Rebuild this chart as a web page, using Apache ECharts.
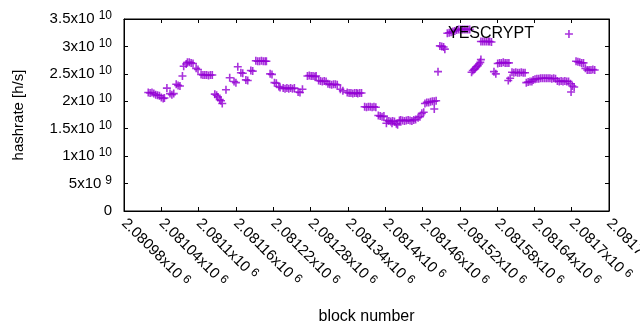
<!DOCTYPE html>
<html lang="en">

<head>
    <meta charset="utf-8">
    <title>YESCRYPT hashrate</title>
    <script src="https://cdn.jsdelivr.net/npm/echarts@6/dist/echarts.min.js"></script>
    <style>
        html, body { margin: 0; padding: 0; background: #fff; }
        #chart-container { width: 640px; height: 330px; }
    </style>
</head>

<body>
    <div id="chart-container"></div>

    <script>
        // axis ranges (block numbers and h/s)
        const xMin = 2080980;
        const xMax = 2081760;
        const xStep = 60;
        const yMin = 0;
        const yMax = 3.5e10;
        const yStep = 5e9;

        const seriesName = 'YESCRYPT';
        const hashUnit = 1e10; // values below are in units of 10^10 h/s

        // [block number, hashrate / 10^10]
        const yescrypt = [
            [2081019, 2.16], [2081022, 2.15], [2081025, 2.16], [2081028, 2.14],
            [2081031, 2.12], [2081034, 2.11], [2081037, 2.10],
            [2081040, 2.07], [2081043, 2.05], [2081045, 2.06],
            [2081049, 2.24],
            [2081054, 2.14], [2081057, 2.12], [2081060, 2.14],
            [2081064, 2.31], [2081067, 2.29], [2081070, 2.28],
            [2081074, 2.46], [2081076, 2.64],
            [2081080, 2.68], [2081082, 2.71], [2081085, 2.71], [2081088, 2.70], [2081091, 2.69],
            [2081096, 2.60], [2081099, 2.58],
            [2081104, 2.49], [2081107, 2.48], [2081110, 2.48], [2081113, 2.48], [2081116, 2.47], [2081119, 2.48], [2081122, 2.48],
            [2081126, 2.13], [2081129, 2.11], [2081131, 2.08], [2081134, 2.03], [2081136, 2.01], [2081138, 1.96],
            [2081144, 2.21], [2081150, 2.43],
            [2081157, 2.36], [2081160, 2.34],
            [2081163, 2.63],
            [2081168, 2.52], [2081171, 2.51],
            [2081176, 2.39], [2081179, 2.38],
            [2081184, 2.56], [2081187, 2.55],
            [2081192, 2.74], [2081195, 2.73], [2081198, 2.73], [2081201, 2.74], [2081204, 2.73], [2081207, 2.73], [2081209, 2.73],
            [2081215, 2.50], [2081218, 2.49],
            [2081222, 2.34], [2081225, 2.33],
            [2081229, 2.27], [2081231, 2.25],
            [2081236, 2.24], [2081239, 2.23], [2081242, 2.24], [2081245, 2.23], [2081248, 2.24], [2081251, 2.23], [2081254, 2.24],
            [2081260, 2.17], [2081263, 2.16],
            [2081267, 2.22],
            [2081275, 2.46], [2081278, 2.47], [2081281, 2.46], [2081284, 2.46], [2081287, 2.45], [2081289, 2.46],
            [2081293, 2.38], [2081296, 2.37], [2081299, 2.36], [2081302, 2.37], [2081305, 2.36],
            [2081308, 2.32], [2081311, 2.31], [2081314, 2.30], [2081317, 2.31], [2081320, 2.31], [2081323, 2.30],
            [2081328, 2.22], [2081332, 2.19],
            [2081339, 2.16], [2081342, 2.15], [2081345, 2.15], [2081348, 2.14], [2081351, 2.15], [2081354, 2.15], [2081356, 2.14], [2081359, 2.15], [2081362, 2.15],
            [2081367, 1.90], [2081370, 1.89], [2081373, 1.90], [2081376, 1.90], [2081379, 1.89], [2081382, 1.90], [2081385, 1.89],
            [2081389, 1.74], [2081392, 1.73], [2081395, 1.72], [2081398, 1.73],
            [2081403, 1.65], [2081406, 1.64], [2081409, 1.63], [2081412, 1.64], [2081415, 1.63],
            [2081418, 1.59], [2081420, 1.57],
            [2081423, 1.65], [2081425, 1.66], [2081428, 1.65], [2081431, 1.64], [2081434, 1.65], [2081437, 1.66], [2081440, 1.65], [2081443, 1.64], [2081446, 1.66], [2081449, 1.67],
            [2081402, 1.60], [2081411, 1.60],
            [2081453, 1.70], [2081456, 1.72],
            [2081459, 1.78], [2081462, 1.80],
            [2081464, 1.96], [2081467, 1.98], [2081470, 1.98], [2081473, 1.99], [2081476, 2.00], [2081479, 2.00], [2081482, 2.01],
            [2081479, 1.86],
            [2081485, 2.54],
            [2081488, 3.01], [2081491, 3.00], [2081494, 2.99], [2081496, 2.95],
            [2081500, 3.24], [2081503, 3.25], [2081506, 3.26], [2081509, 3.27], [2081512, 3.28],
            [2081515, 3.30], [2081518, 3.31], [2081521, 3.31], [2081524, 3.31], [2081527, 3.31], [2081530, 3.31], [2081533, 3.31], [2081536, 3.31],
            [2081539, 2.53], [2081541, 2.56], [2081543, 2.58], [2081545, 2.60], [2081547, 2.63], [2081549, 2.65], [2081551, 2.68], [2081553, 2.71], [2081554, 2.76],
            [2081554, 3.09], [2081557, 3.09], [2081560, 3.09], [2081563, 3.09], [2081566, 3.09], [2081568, 3.09], [2081571, 3.08],
            [2081575, 2.54], [2081578, 2.50],
            [2081581, 2.69], [2081584, 2.70], [2081587, 2.70], [2081590, 2.71], [2081593, 2.70], [2081596, 2.70], [2081599, 2.70],
            [2081598, 2.38], [2081601, 2.42],
            [2081604, 2.53], [2081607, 2.52], [2081610, 2.53], [2081613, 2.52], [2081616, 2.52], [2081619, 2.53], [2081622, 2.52], [2081625, 2.52],
            [2081627, 2.34], [2081630, 2.35], [2081633, 2.36], [2081636, 2.36],
            [2081638, 2.39], [2081641, 2.40], [2081644, 2.41], [2081647, 2.41], [2081650, 2.42], [2081653, 2.42], [2081656, 2.42], [2081659, 2.42], [2081662, 2.42], [2081665, 2.42], [2081668, 2.41], [2081671, 2.42], [2081674, 2.41],
            [2081677, 2.37], [2081680, 2.36], [2081683, 2.37], [2081686, 2.36], [2081689, 2.37], [2081692, 2.36], [2081695, 2.36],
            [2081698, 2.32], [2081701, 2.28], [2081704, 2.26], [2081699, 2.17],
            [2081707, 2.73], [2081710, 2.72], [2081713, 2.71], [2081716, 2.70], [2081719, 2.70],
            [2081722, 2.60], [2081725, 2.57], [2081728, 2.57], [2081731, 2.57], [2081734, 2.58], [2081737, 2.57]
        ];

        // gnuplot style "+" point
        const plusSymbol = 'path://M3.2,0H4.8V3.2H8V4.8H4.8V8H3.2V4.8H0V3.2H3.2Z';
        const purple = '#9400D3';
        const fontFamily = 'Liberation Sans, Arial, sans-serif';

        // 2.08098x10^6 style labels
        function sciLabel(v) {
            if (v === 0) return '0';
            const exp = Math.floor(Math.log10(v) + 1e-9);
            const mant = parseFloat((v / Math.pow(10, exp)).toPrecision(6));
            return mant + 'x10{sup|' + exp + '}';
        }

        const labelRich = {
            sup: { fontSize: 12, fontFamily: fontFamily, color: '#000', padding: [0, 0, 6, 4] }
        };

        // ticks drawn inside on all four sides, like gnuplot's mirrored tics
        function boxAxis(extra) {
            return Object.assign({
                type: 'value',
                axisLine: { show: true, onZero: false, lineStyle: { color: '#000', width: 1 } },
                axisTick: { show: true, inside: true, length: 4, lineStyle: { color: '#000' } },
                splitLine: { show: false }
            }, extra);
        }

        const chartDom = document.getElementById('chart-container');
        const myChart = echarts.init(chartDom, null, { renderer: 'canvas' });

        const option = {
            animation: false,
            backgroundColor: '#fff',
            textStyle: { fontFamily: fontFamily },
            grid: {
                left: 124, right: 31, top: 19, bottom: 119,
                containLabel: false,
                outerBoundsMode: 'none',
                show: true,
                borderColor: '#000',
                borderWidth: 1
            },
            legend: {
                data: [{ name: seriesName, icon: plusSymbol }],
                left: 443,
                top: 21,
                align: 'right',
                itemWidth: 60,
                itemHeight: 8,
                itemGap: 5,
                textStyle: { fontSize: 16, color: '#000', fontFamily: fontFamily }
            },
            xAxis: [boxAxis({
                min: xMin,
                max: xMax,
                interval: xStep,
                name: 'block number',
                nameLocation: 'middle',
                nameGap: 98,
                nameTextStyle: { fontSize: 16, color: '#000' },
                axisLabel: {
                    rotate: -45,
                    margin: 10,
                    fontSize: 15,
                    color: '#000',
                    showMaxLabel: true,
                    formatter: sciLabel,
                    rich: labelRich
                }
            }), boxAxis({
                position: 'top',
                min: xMin,
                max: xMax,
                interval: xStep,
                axisLabel: { show: false }
            })],
            yAxis: [boxAxis({
                min: yMin,
                max: yMax,
                interval: yStep,
                name: 'hashrate [h/s]',
                nameLocation: 'middle',
                nameGap: 98,
                nameTextStyle: { fontSize: 15, color: '#000' },
                axisLabel: {
                    margin: 12,
                    fontSize: 15,
                    color: '#000',
                    formatter: sciLabel,
                    rich: labelRich
                }
            }), boxAxis({
                position: 'right',
                min: yMin,
                max: yMax,
                interval: yStep,
                axisLabel: { show: false }
            })],
            series: [{
                name: seriesName,
                type: 'scatter',
                symbol: plusSymbol,
                symbolSize: 8,
                itemStyle: { color: purple },
                data: yescrypt.map(p => [p[0], p[1] * hashUnit])
            }]
        };
        myChart.setOption(option);
    </script>
</body>

</html>
